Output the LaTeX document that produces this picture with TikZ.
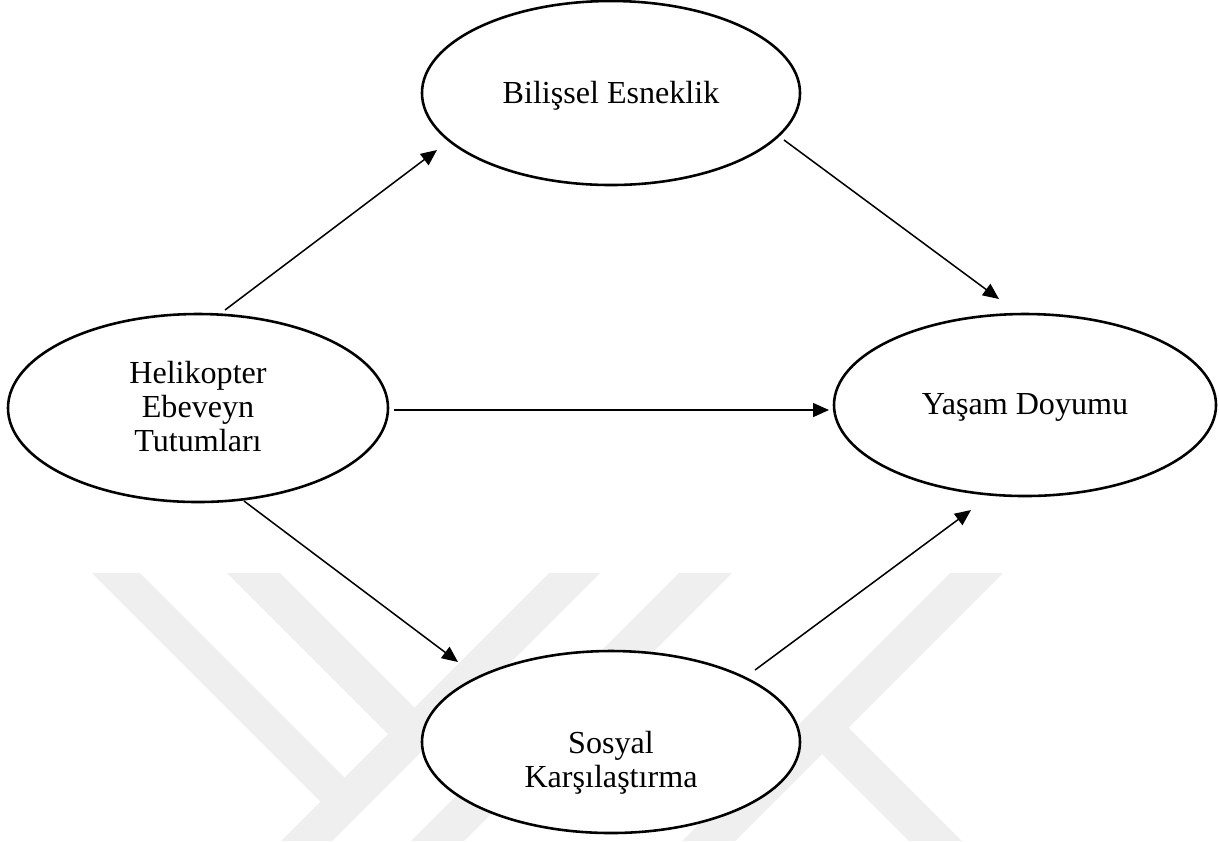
\documentclass[tikz,border=0pt]{standalone}
\usepackage{fontspec}
\setmainfont{Liberation Serif}
\usetikzlibrary{shapes.geometric,arrows.meta,calc}
\definecolor{wm}{RGB}{239,239,239}
\begin{document}
\begin{tikzpicture}[x=0.015cm,y=-0.015cm,
  ell/.style={ellipse,draw=black,line width=1.1pt,fill=white,inner sep=0pt},
  lbl/.style={font=\fontsize{13.7}{14.5}\selectfont,align=center,anchor=base,inner sep=0pt},
  arr/.style={line width=0.65pt,-{Triangle[length=0.24cm,width=0.21cm]}},
  wmark/.style={fill=wm,draw=none}]
\useasboundingbox (0,0) rectangle (1219,841);
% watermark
\fill[wmark] (92,573) -- (140,573) -- (353.5,786.5) -- (329.5,810.5) -- cycle;
\fill[wmark] (227,573) -- (280,573) -- (423.5,716.5) -- (397,743) -- cycle;
\fill[wmark] (281,841) -- (332,841) -- (600,573) -- (549,573) -- cycle;
\fill[wmark] (411,841) -- (464,841) -- (732,573) -- (679,573) -- cycle;
\fill[wmark] (682,841) -- (735,841) -- (1003,573) -- (950,573) -- cycle;
\fill[wmark] (814,746) -- (840.5,719.5) -- (962,841) -- (909,841) -- cycle;
% ellipses
\node[ell,minimum width=5.67cm,minimum height=2.76cm] (b) at (611,93) {};
\node[ell,minimum width=5.7cm,minimum height=2.82cm] (h) at (198,408) {};
\node[ell,minimum width=5.73cm,minimum height=2.73cm] (y) at (1025,405) {};
\node[ell,minimum width=5.67cm,minimum height=2.73cm] (s) at (611,742) {};
% texts (base = baseline of the last line)
\node[lbl] (tb) at (611,103) {Bilişsel Esneklik};
\node[lbl] (th) at (198,451) {Helikopter\\Ebeveyn\\Tutumları};
\node[lbl] (ty) at (1025,414) {Yaşam Doyumu};
\node[lbl] (ts) at (611,787) {Sosyal\\Karşılaştırma};
% arrows
\draw[arr] ($(h)+(27,-98)$) -- ($(b)+(-174,57)$);
\draw[arr] ($(b)+(173,47)$) -- ($(y)+(-26,-106)$);
\draw[arr] ($(h)+(196,2)$) -- ($(y)+(-196,5)$);
\draw[arr] ($(h)+(46,93)$) -- ($(s)+(-153,-80)$);
\draw[arr] ($(s)+(144,-72)$) -- ($(y)+(-54,105)$);
\end{tikzpicture}
\end{document}
